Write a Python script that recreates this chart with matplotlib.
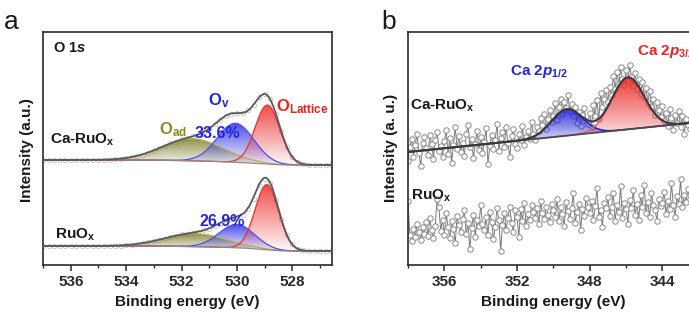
import numpy as np
import matplotlib
matplotlib.use("Agg")
import matplotlib.pyplot as plt
from matplotlib.patches import Polygon
from matplotlib.colors import to_rgb
from matplotlib.ticker import MultipleLocator

plt.rcParams['font.family'] = ['Liberation Sans', 'DejaVu Sans']
plt.rcParams['mathtext.fontset'] = 'custom'
plt.rcParams['mathtext.rm'] = 'Liberation Sans:bold'
plt.rcParams['mathtext.bf'] = 'Liberation Sans:bold'
plt.rcParams['mathtext.it'] = 'Liberation Sans:bold:italic'

# ---------------- data : panel a (O 1s) ----------------
o1s_be = np.round(np.arange(537.0, 526.5, -0.2), 1)
o1s_ca = [105.0, 105.2, 104.8, 105.1, 104.9, 105.0, 105.2, 104.9, 105.1, 105.3,
          105.0, 105.4, 105.5, 105.9, 106.1, 107.2, 107.8, 109.3, 110.4, 112.5,
          114.2, 116.9, 119.0, 121.6, 123.3, 125.6, 126.8, 128.8, 130.2, 133.1,
          136.2, 140.9, 145.1, 149.5, 151.3, 152.2, 151.9, 154.6, 159.8, 167.6,
          170.6, 165.8, 151.4, 134.0, 118.1, 108.4, 102.7, 101.1, 100.0, 100.2,
          99.9, 100.1, 100.0]
o1s_ru = [19.0, 19.2, 18.9, 19.1, 18.8, 19.0, 19.1, 18.9, 19.2, 19.0,
          19.0, 19.3, 19.1, 19.5, 19.5, 20.1, 20.3, 21.2, 21.7, 23.0,
          23.8, 25.4, 26.3, 28.1, 29.0, 30.6, 31.2, 32.5, 33.2, 34.7,
          36.3, 39.1, 41.5, 44.6, 46.1, 47.9, 49.8, 56.1, 66.5, 79.6,
          86.1, 81.8, 65.4, 46.3, 29.8, 20.7, 15.9, 14.6, 13.9, 14.1,
          14.0, 13.9, 14.1]

# fitted components: [O_ad, O_v, O_Lattice]
ca_o_center = [531.6, 530.05, 528.9]
ca_o_height = [22.0, 39.0, 59.0]
ca_o_fwhm = [2.6, 1.55, 1.05]
ca_o_bg = [105.0, 100.0]          # high-BE side, low-BE side
ru_o_center = [531.5, 530.0, 528.92]
ru_o_height = [13.0, 23.5, 65.0]
ru_o_fwhm = [2.6, 1.5, 1.0]
ru_o_bg = [19.0, 14.0]

# ---------------- data : panel b (Ca 2p) ----------------
ca2p_be = np.round(np.arange(358.0, 342.45, -0.1), 1)
ca2p_ca = [104, 118, 126, 108, 120, 131, 112, 99, 122, 128,
           117, 110, 130, 121, 106, 125, 133, 114, 119, 108,
           124, 135, 111, 127, 102, 120, 138, 116, 129, 113,
           122, 109, 131, 140, 118, 126, 107, 121, 134, 115,
           128, 112, 123, 137, 101, 119, 130, 116, 125, 141,
           114, 127, 133, 118, 138, 122, 108, 129, 136, 121,
           117, 131, 125, 139, 120, 128, 134, 126, 143, 131,
           125, 138, 134, 147, 140, 151, 136, 146, 155, 143,
           149, 162, 145, 158, 166, 151, 163, 157, 170, 154,
           161, 149, 158, 142, 153, 139, 150, 157, 144, 141,
           152, 138, 160, 149, 165, 146, 172, 158, 166, 175,
           163, 178, 170, 189, 176, 193, 181, 198, 186, 180,
           195, 184, 200, 188, 179, 192, 176, 186, 171, 183,
           168, 177, 162, 174, 158, 166, 150, 163, 155, 148,
           159, 144, 152, 139, 156, 147, 135, 150, 142, 154,
           138, 149, 131, 146, 140, 136]
ca2p_ru = [64, 30, 24, 36, 28, 41, 33, 25, 38, 31,
           43, 29, 47, 35, 27, 39, 66, 58, 34, 45,
           30, 52, 38, 27, 44, 36, 22, 49, 40, 33,
           46, 55, 31, 42, 16, 37, 50, 28, 45, 39,
           60, 41, 35, 48, 30, 53, 43, 26, 38, 57,
           45, 14, 40, 52, 35, 47, 58, 42, 33, 55,
           48, 28, 56, 44, 62, 39, 51, 45, 60, 53,
           47, 57, 41, 64, 52, 46, 58, 50, 43, 61,
           55, 48, 66, 44, 58, 51, 39, 63, 54, 46,
           57, 72, 42, 53, 61, 35, 56, 49, 67, 58,
           52, 64, 45, 59, 77, 48, 55, 38, 62, 57,
           68, 49, 58, 72, 44, 60, 53, 79, 47, 62,
           56, 41, 65, 57, 75, 50, 61, 45, 70, 58,
           80, 52, 63, 48, 72, 60, 55, 44, 66, 59,
           62, 73, 51, 64, 56, 82, 60, 48, 69, 61,
           86, 58, 70, 63, 76, 66]
# fitted components: [Ca 2p1/2, Ca 2p3/2]
ca2p_center = [349.25, 345.9]
ca2p_height = [26.5, 52.0]
ca2p_fwhm = [2.0, 2.1]
ca2p_bg_be = [358.0, 342.5]
ca2p_bg_val = [113.0, 142.0]

# ---------------- helpers ----------------
W, H = 689, 325


def gauss(x, c, h, w):
    return h * np.exp(-4 * np.log(2) * (x - c) ** 2 / w ** 2)


def shirley(x, comps, bg):
    tot = np.sum(comps, axis=0)
    cum = np.concatenate([[0], np.cumsum(0.5 * (tot[1:] + tot[:-1]) * np.diff(x))])
    frac = cum / cum[-1]
    return bg[1] + (bg[0] - bg[1]) * frac


def grad_fill(ax, x, ybot, ytop, color, a_top=0.85, a_bot=0.03, gamma=0.9, z=3):
    verts = np.concatenate([np.column_stack([x, ytop]),
                            np.column_stack([x[::-1], ybot[::-1]])])
    poly = Polygon(verts, closed=True, facecolor='none', edgecolor='none')
    ax.add_patch(poly)
    mask = (ytop - ybot) > 0.05
    ymin = ybot[mask].min()
    ymax = ytop[mask].max()
    n = 256
    img = np.zeros((n, 1, 4))
    img[..., :3] = to_rgb(color)
    img[:, 0, 3] = a_bot + (a_top - a_bot) * np.linspace(0, 1, n) ** gamma
    im = ax.imshow(img, extent=[x.min(), x.max(), ymin, ymax], origin='lower',
                   aspect='auto', zorder=z, interpolation='bilinear')
    im.set_clip_path(poly)


def ftext(xp, yp, s, **kw):
    kw.setdefault('va', 'center')
    kw.setdefault('ha', 'left')
    fig.text(xp / W, 1 - yp / H, s, **kw)


def style_axes(ax):
    for sp in ax.spines.values():
        sp.set_linewidth(1.2)
        sp.set_color('#2a2a2a')
    ax.tick_params(axis='x', which='major', direction='out', length=4.5, width=1.1,
                   labelsize=11, pad=3, colors='#2a2a2a')
    ax.tick_params(axis='x', which='minor', direction='out', length=2.5, width=1.0,
                   colors='#2a2a2a')
    ax.tick_params(axis='y', left=False, labelleft=False)
    for lab in ax.get_xticklabels():
        lab.set_fontweight('bold')


fig = plt.figure(figsize=(W / 100, H / 100), dpi=100)

# ================= panel a =================
axa = fig.add_axes([43 / W, 1 - 265 / H, (332 - 43) / W, (265 - 32) / H])
xs = np.linspace(526.0, 538.0, 1200)
cols_a = ['#7a7a22', '#2b2be6', '#ee2a2a']
line_a = ['#b0b055', '#5050ee', '#ee3030']
for centers, heights, fwhms, bgv, raw in [
        (ca_o_center, ca_o_height, ca_o_fwhm, ca_o_bg, o1s_ca),
        (ru_o_center, ru_o_height, ru_o_fwhm, ru_o_bg, o1s_ru)]:
    comps = np.array([gauss(xs, c, h, w) for c, h, w in zip(centers, heights, fwhms)])
    bg = shirley(xs, comps, bgv)
    for comp, col, lc in zip(comps, cols_a, line_a):
        grad_fill(axa, xs, bg, bg + comp, col, a_top=0.85, gamma=1.0)
        axa.plot(xs, bg + comp, color=lc, lw=0.9, zorder=4)
    axa.plot(o1s_be, raw, ls='none', marker='o', ms=3.2, mfc='none',
             mec='#c4c4c4', mew=0.6, zorder=2)
    axa.plot(xs, bg, color='#8a8a8a', lw=0.9, zorder=4)
    axa.plot(xs, bg + comps.sum(axis=0), color='#5a5a5a', lw=1.3, zorder=5)

axa.set_xlim(537.0, 526.57)
axa.set_ylim(0, 233)
axa.xaxis.set_major_locator(MultipleLocator(2))
axa.xaxis.set_minor_locator(MultipleLocator(1))
style_axes(axa)

# ================= panel b =================
axb = fig.add_axes([408 / W, 1 - 265 / H, (700 - 408) / W, (265 - 32) / H])
xb = np.linspace(341.0, 359.0, 1200)
bgb = np.interp(xb, ca2p_bg_be[::-1], ca2p_bg_val[::-1])
compb = np.array([gauss(xb, c, h, w) for c, h, w in zip(ca2p_center, ca2p_height, ca2p_fwhm)])

for raw in (ca2p_ca, ca2p_ru):
    axb.plot(ca2p_be, raw, color='#7a7a7a', lw=0.7, zorder=2)
    axb.plot(ca2p_be, raw, ls='none', marker='o', ms=3.9, mfc='white',
             mec='#8a8a8a', mew=0.7, zorder=2.5)

for comp, col, lc in zip(compb, ['#2020dd', '#ee2a2a'], ['#1c1ccc', '#e86060']):
    grad_fill(axb, xb, bgb, bgb + comp, col, a_top=0.9, a_bot=0.08, gamma=0.8, z=3)
    axb.plot(xb, bgb + comp, color=lc, lw=1.1, zorder=4)
axb.plot(xb, bgb, color='#4a4a4a', lw=1.3, zorder=5)
axb.plot(xb, bgb + compb.sum(axis=0), color='#3a3a3a', lw=1.5, zorder=5)

axb.set_xlim(358.0, 358.0 - (700 - 408) / 18.17)
axb.set_ylim(0, 233)
axb.xaxis.set_major_locator(MultipleLocator(4))
axb.xaxis.set_minor_locator(MultipleLocator(2))
style_axes(axb)

# ================= texts =================
tk = dict(fontsize=11, fontweight='bold', color='#1a1a1a')
ftext(4, 22, 'a', fontsize=19, color='#1a1a1a')
ftext(381, 22, 'b', fontsize=19, color='#1a1a1a')

ftext(187, 302, 'Binding energy (eV)', ha='center', **tk)
ftext(553, 302, 'Binding energy (eV)', ha='center', **tk)
fig.text(27 / W, 1 - 150 / H, 'Intensity (a.u.)', rotation=90, ha='center', va='center', **tk)
fig.text(391 / W, 1 - 148 / H, 'Intensity (a. u.)', rotation=90, ha='center', va='center', **tk)

ftext(53, 48, r'O 1$\mathit{s}$', fontsize=10.5, fontweight='bold', color='#1a1a1a')
ftext(50, 140, r'Ca-RuO$_\mathbf{x}$', **tk)
ftext(55, 235, r'RuO$_\mathbf{x}$', **tk)
ftext(159, 130, r'O$_\mathbf{ad}$', fontsize=12, fontweight='bold', color='#8a8a22')
ftext(195, 134, '33.6%', fontsize=11.5, fontweight='bold', color='#2424e0')
ftext(208, 101, r'O$_\mathbf{v}$', fontsize=12, fontweight='bold', color='#2424e0')
ftext(276, 107, r'O$_\mathbf{Lattice}$', fontsize=12, fontweight='bold', color='#ee2222')
ftext(199, 221, '26.9%', fontsize=11.5, fontweight='bold', color='#2424e0')

ftext(410, 106, r'Ca-RuO$_\mathbf{x}$', **tk)
ftext(411, 196, r'RuO$_\mathbf{x}$', **tk)
ftext(510, 72, r'Ca 2$\mathit{p}_{\mathit{1/2}}$', fontsize=11, fontweight='bold', color='#2424e0')
ftext(637, 51, r'Ca 2$\mathit{p}_{\mathit{3/2}}$', fontsize=11, fontweight='bold', color='#ee2222')

fig.savefig('out.png', dpi=100)
